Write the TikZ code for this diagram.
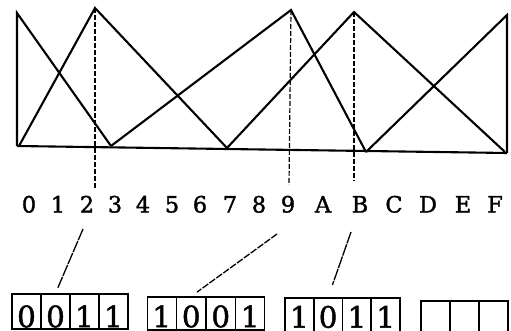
\documentclass[tikz,border=0pt]{standalone}
\usepackage{fontspec}
\newfontfamily\scalefont[FakeBold=1.5]{DejaVu Serif}
\usetikzlibrary{calc}
\begin{document}
\begin{tikzpicture}[x=1pt,y=-1pt,
  curve/.style={line width=2.1pt},
  guide/.style={line width=1.2pt, dash pattern=on 5pt off 2pt},
  pointer/.style={line width=1.3pt, dash pattern=on 7pt off 1.5pt},
  solidish/.style={line width=1.3pt, dash pattern=on 12pt off 1pt},
  hexlabel/.style={anchor=base, inner sep=1pt, font=\scalefont\fontsize{22.5}{22.5}\selectfont},
  cell/.style={draw, line width=1.4pt, minimum width=29pt, inner sep=0pt},
  digit/.style={anchor=base, inner sep=0pt, font=\scalefont\fontsize{29.5}{29.5}\selectfont}]
\useasboundingbox (0,0) rectangle (511,331);

% membership triangles
\coordinate (p0) at (17,13);
\coordinate (p2) at (95,8);
\coordinate (p9) at (291,10);
\coordinate (pB) at (354,12);
\coordinate (pF) at (507,15);
\draw[curve] (17,146) -- (p0) -- (111,146);
\draw[curve] (19,146) -- (p2) -- (227,148);
\draw[curve] (111,146) -- (p9) -- (366,152);
\draw[curve] (227,148) -- (pB) -- (505,152);
\draw[curve] (366,152) -- (pF) -- (507,153);
\draw[curve] (17,146) -- (507,153);

% hexadecimal scale
\foreach \t/\x in {0/29,1/58,2/87,3/115,4/143,5/172,6/200,7/230,8/259,9/288,A/323,B/360,C/394,D/428,E/463,F/495}
  \node[hexlabel] (l\t) at (\x,212.5) {\t};

% guides from the peaks down to the scale
\draw[guide] (p2) -- (95,188);
\draw[guide] (p9) -- (289,185);
\draw[guide] (pB) -- (354,181);

% 4-bit codes
\foreach \d [count=\i] in {0,0,1,1}{
  \node[cell, minimum height=35pt] (a\i) at (12+29*\i-14.5,311.5) {};
  \node[digit] (ad\i) at ([yshift=2.5pt]a\i.south) {\d};}
\foreach \d [count=\i] in {1,0,0,1}{
  \node[cell, minimum height=33pt] (b\i) at (147+29.5*\i-14.75,313.5) {};
  \node[digit] (bd\i) at ([yshift=3.5pt]b\i.south) {\d};}
\foreach \d [count=\i] in {1,0,1,1}{
  \node[cell, minimum height=33.5pt] (c\i) at (285+28.75*\i-14.375,314.75) {};
  \node[digit] (cd\i) at ([yshift=4.5pt]c\i.south) {\d};}
\foreach \i in {1,2,3}
  \node[cell, minimum height=33pt] (e\i) at (421+29*\i-14.5,317.5) {};

% pointers from the scale to the codes
\coordinate (s2) at (83,229);
\coordinate (s9) at (277,234);
\coordinate (sB) at (351,232);
\draw[solidish, shorten >=6pt] (s2) -- (a2.north);
\draw[pointer, shorten >=7pt] (s9) -- (b2.north);
\draw[solidish, shorten >=13pt] (sB) -- (c2.north);
\end{tikzpicture}
\end{document}
